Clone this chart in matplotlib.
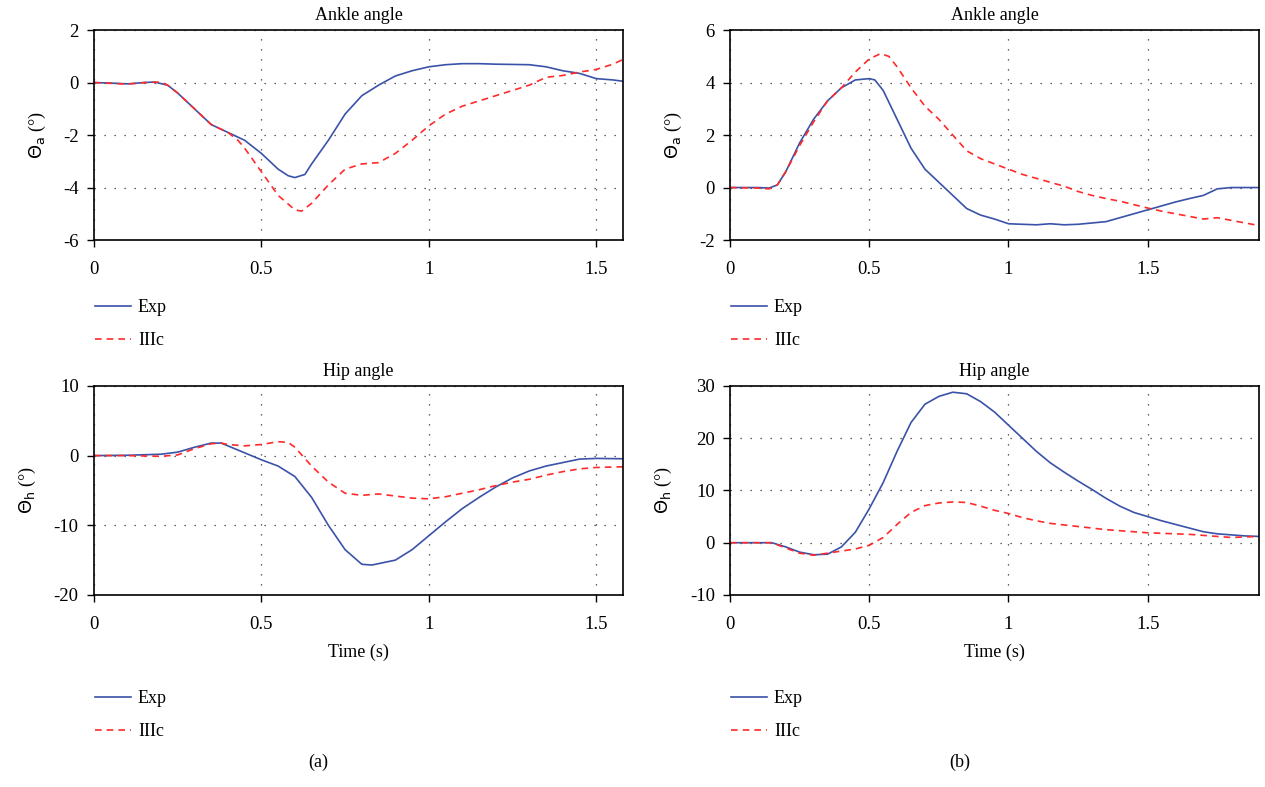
import numpy as np
from matplotlib import pyplot as plt

plt.rcParams['font.family'] = ['Liberation Serif', 'DejaVu Serif']
plt.rcParams['mathtext.fontset'] = 'dejavusans'
plt.rcParams['axes.unicode_minus'] = False

EXP_COLOR = '#3a52a8'
SIM_COLOR = '#ff2a2a'

# (a) ankle angle
t_a_ankle_exp = [0, 0.05, 0.1, 0.15, 0.18, 0.22, 0.25, 0.3, 0.35, 0.4, 0.45, 0.5, 0.55,
                 0.58, 0.6, 0.63, 0.65, 0.7, 0.75, 0.8, 0.85, 0.9, 0.95, 1.0, 1.05, 1.1,
                 1.15, 1.2, 1.3, 1.35, 1.4, 1.45, 1.5, 1.55, 1.58]
a_ankle_exp = [0, -0.02, -0.05, 0.0, 0.02, -0.1, -0.4, -1.0, -1.6, -1.9, -2.2, -2.7, -3.3,
               -3.55, -3.62, -3.5, -3.1, -2.2, -1.2, -0.5, -0.1, 0.25, 0.45, 0.6, 0.68,
               0.72, 0.72, 0.7, 0.68, 0.6, 0.45, 0.35, 0.15, 0.1, 0.05]
t_a_ankle_sim = [0, 0.05, 0.1, 0.15, 0.2, 0.22, 0.25, 0.3, 0.35, 0.4, 0.43, 0.45, 0.5,
                 0.55, 0.6, 0.62, 0.65, 0.7, 0.75, 0.8, 0.85, 0.9, 0.95, 1.0, 1.05, 1.1,
                 1.15, 1.2, 1.25, 1.3, 1.35, 1.4, 1.45, 1.5, 1.55, 1.58]
a_ankle_sim = [0, -0.03, -0.06, 0.0, 0.02, -0.1, -0.4, -1.0, -1.6, -1.9, -2.2, -2.5, -3.4,
               -4.3, -4.85, -4.9, -4.6, -3.9, -3.3, -3.1, -3.05, -2.7, -2.2, -1.65, -1.2,
               -0.9, -0.7, -0.5, -0.3, -0.1, 0.2, 0.27, 0.4, 0.5, 0.7, 0.88]

# (a) hip angle
t_a_hip_exp = [0, 0.1, 0.2, 0.25, 0.3, 0.35, 0.38, 0.4, 0.45, 0.5, 0.55, 0.6, 0.65, 0.7,
               0.75, 0.8, 0.83, 0.9, 0.95, 1.0, 1.05, 1.1, 1.15, 1.2, 1.25, 1.3, 1.35,
               1.4, 1.45, 1.5, 1.58]
a_hip_exp = [0, 0.05, 0.2, 0.5, 1.2, 1.8, 1.8, 1.4, 0.4, -0.6, -1.5, -3.0, -6.0, -10,
             -13.5, -15.6, -15.7, -15.0, -13.5, -11.5, -9.5, -7.6, -6.0, -4.5, -3.2, -2.2,
             -1.5, -1.0, -0.5, -0.4, -0.45]
t_a_hip_sim = [0, 0.1, 0.2, 0.25, 0.3, 0.35, 0.38, 0.4, 0.45, 0.5, 0.55, 0.58, 0.6, 0.65,
               0.7, 0.75, 0.8, 0.85, 0.9, 0.95, 1.0, 1.05, 1.1, 1.15, 1.2, 1.25, 1.3,
               1.35, 1.4, 1.45, 1.5, 1.58]
a_hip_sim = [0, 0.0, -0.1, 0.1, 1.0, 1.7, 1.8, 1.6, 1.4, 1.6, 2.0, 1.9, 1.2, -1.5, -3.8,
             -5.4, -5.7, -5.5, -5.8, -6.1, -6.2, -5.9, -5.4, -4.9, -4.3, -3.8, -3.4, -2.8,
             -2.3, -1.9, -1.7, -1.6]

# (b) ankle angle
t_b_ankle_exp = [0, 0.1, 0.14, 0.17, 0.2, 0.25, 0.3, 0.35, 0.4, 0.45, 0.5, 0.52, 0.55,
                 0.6, 0.65, 0.7, 0.75, 0.8, 0.85, 0.9, 0.95, 1.0, 1.05, 1.1, 1.15, 1.2,
                 1.25, 1.3, 1.35, 1.4, 1.45, 1.5, 1.55, 1.6, 1.65, 1.7, 1.75, 1.8, 1.9]
b_ankle_exp = [0, 0, -0.02, 0.1, 0.6, 1.7, 2.6, 3.3, 3.8, 4.1, 4.15, 4.1, 3.7, 2.6, 1.5,
               0.7, 0.2, -0.3, -0.8, -1.05, -1.2, -1.38, -1.4, -1.42, -1.38, -1.42, -1.4,
               -1.35, -1.3, -1.15, -1.0, -0.85, -0.7, -0.55, -0.42, -0.3, -0.05, 0.0, 0.0]
t_b_ankle_sim = [0, 0.1, 0.14, 0.17, 0.2, 0.25, 0.3, 0.35, 0.4, 0.45, 0.5, 0.54, 0.57,
                 0.6, 0.65, 0.7, 0.75, 0.8, 0.85, 0.9, 0.95, 1.0, 1.05, 1.1, 1.15, 1.2,
                 1.25, 1.3, 1.35, 1.4, 1.45, 1.5, 1.55, 1.6, 1.65, 1.7, 1.75, 1.8, 1.85,
                 1.9]
b_ankle_sim = [0, -0.02, -0.05, 0.1, 0.6, 1.6, 2.5, 3.3, 3.8, 4.4, 4.9, 5.1, 5.0, 4.6,
               3.8, 3.1, 2.6, 2.0, 1.4, 1.1, 0.9, 0.7, 0.5, 0.35, 0.2, 0.05, -0.15, -0.3,
               -0.42, -0.52, -0.65, -0.78, -0.9, -1.0, -1.1, -1.2, -1.15, -1.25, -1.35,
               -1.45]

# (b) hip angle
t_b_hip_exp = [0, 0.1, 0.15, 0.2, 0.25, 0.3, 0.35, 0.4, 0.45, 0.5, 0.55, 0.6, 0.65, 0.7,
               0.75, 0.8, 0.85, 0.9, 0.95, 1.0, 1.05, 1.1, 1.15, 1.2, 1.25, 1.3, 1.35,
               1.4, 1.45, 1.5, 1.55, 1.6, 1.65, 1.7, 1.75, 1.8, 1.85, 1.9]
b_hip_exp = [0, 0, 0.0, -0.8, -1.8, -2.3, -2.2, -0.8, 2.0, 6.5, 11.5, 17.5, 23, 26.5, 28,
             28.8, 28.5, 27, 25, 22.5, 20, 17.5, 15.3, 13.5, 11.8, 10.2, 8.5, 7.0, 5.8,
             5.0, 4.2, 3.5, 2.8, 2.1, 1.7, 1.5, 1.3, 1.2]
t_b_hip_sim = [0, 0.15, 0.2, 0.25, 0.3, 0.35, 0.4, 0.45, 0.5, 0.55, 0.6, 0.65, 0.7, 0.75,
               0.8, 0.85, 0.9, 0.95, 1.0, 1.05, 1.1, 1.15, 1.2, 1.25, 1.3, 1.35, 1.4,
               1.45, 1.5, 1.55, 1.6, 1.65, 1.7, 1.75, 1.8, 1.85, 1.9]
b_hip_sim = [0, 0.0, -1.0, -2.0, -2.4, -2.0, -1.6, -1.2, -0.5, 1.0, 3.5, 5.8, 7.1, 7.6,
             7.8, 7.7, 7.0, 6.2, 5.6, 4.8, 4.2, 3.7, 3.4, 3.1, 2.8, 2.5, 2.3, 2.1, 1.9,
             1.8, 1.7, 1.6, 1.4, 1.2, 1.0, 1.1, 1.2]

x_ticks = [0, 0.5, 1, 1.5]

fig = plt.figure(figsize=(12.65, 7.87), dpi=100)

W = 0.4182
panels = [
    # rect, t_exp, exp, t_sim, sim, title, ylabel, ylim, yticks, xmax, xlabel
    ([0.0743, 0.695, W, 0.2668], t_a_ankle_exp, a_ankle_exp, t_a_ankle_sim, a_ankle_sim,
     'Ankle angle', r'$\Theta_\mathrm{a}$ (°)', (-6, 2), [-6, -4, -2, 0, 2], 1.58, False),
    ([0.5771, 0.695, W, 0.2668], t_b_ankle_exp, b_ankle_exp, t_b_ankle_sim, b_ankle_sim,
     'Ankle angle', r'$\Theta_\mathrm{a}$ (°)', (-2, 6), [-2, 0, 2, 4, 6], 1.9, False),
    ([0.0743, 0.244, W, 0.2656], t_a_hip_exp, a_hip_exp, t_a_hip_sim, a_hip_sim,
     'Hip angle', r'$\Theta_\mathrm{h}$ (°)', (-20, 10), [-20, -10, 0, 10], 1.58, True),
    ([0.5771, 0.244, W, 0.2656], t_b_hip_exp, b_hip_exp, t_b_hip_sim, b_hip_sim,
     'Hip angle', r'$\Theta_\mathrm{h}$ (°)', (-10, 30), [-10, 0, 10, 20, 30], 1.9, True),
]

for rect, te, ye, ts, ys, title, ylab, ylim, yt, xmax, has_xlabel in panels:
    ax = fig.add_axes(rect)
    ax.plot(te, ye, color=EXP_COLOR, lw=1.2, label='Exp')
    ax.plot(ts, ys, color=SIM_COLOR, lw=1.2, ls=(0, (4, 3)), label='IIIc')
    ax.set_xlim(0, xmax)
    ax.set_ylim(*ylim)
    ax.set_xticks(x_ticks)
    ax.set_xticklabels(['%g' % v for v in x_ticks])
    ax.set_yticks(yt)
    ax.set_yticklabels(['%g' % v for v in yt])
    ax.grid(True, color='#333333', lw=0.9, ls=(0, (1, 7)))
    ax.tick_params(labelsize=13.5, length=5, width=1, direction='out')
    ax.tick_params(axis='x', pad=10)
    ax.tick_params(axis='y', pad=6)
    for sp in ax.spines.values():
        sp.set_linewidth(1.2)
    ax.set_title(title, fontsize=13, pad=7)
    ax.set_ylabel(ylab, fontsize=13, labelpad=11)
    if has_xlabel:
        ax.set_xlabel('Time (s)', fontsize=13, labelpad=8)
    # legend below the panel
    leg_y = 0.620 if not has_xlabel else 0.123
    fig.legend(*ax.get_legend_handles_labels(), loc='upper left',
               bbox_to_anchor=(rect[0] + 0.0005, leg_y), frameon=False,
               fontsize=13, handlelength=2.0, handletextpad=0.4, labelspacing=0.9,
               borderaxespad=0, borderpad=0)

fig.text(0.2514, 0.02, '(a)', ha='center', va='bottom', fontsize=13)
fig.text(0.7589, 0.02, '(b)', ha='center', va='bottom', fontsize=13)

plt.savefig('out.png', dpi=100)
